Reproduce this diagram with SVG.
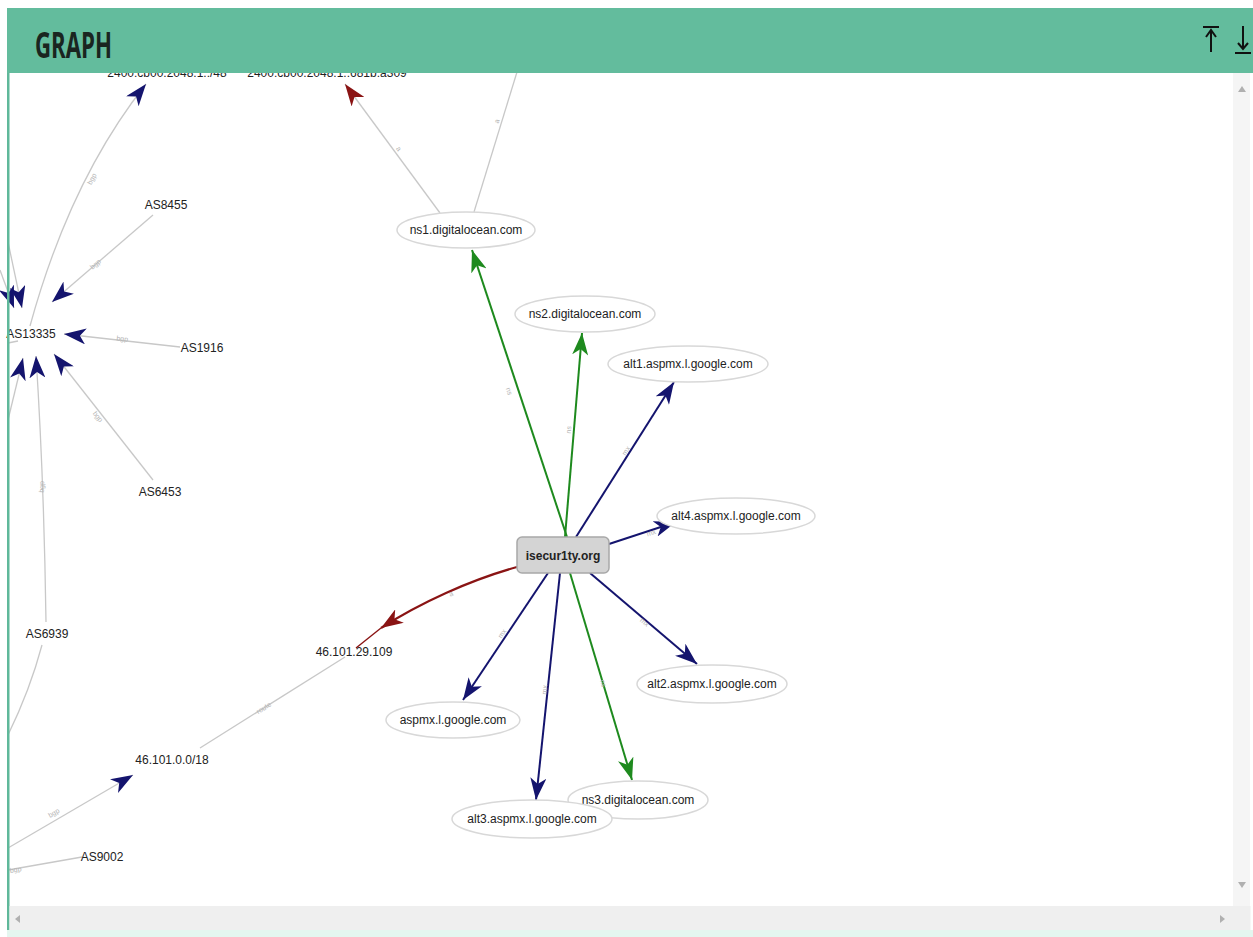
<svg xmlns="http://www.w3.org/2000/svg" width="1253" height="937" viewBox="0 0 1253 937">
<style>
.lbl{font-family:"Liberation Sans",Arial,sans-serif;font-size:12px;fill:#222;text-anchor:middle}
.el{fill:#fff;stroke:#d8d8d8;stroke-width:1.5}
.g{fill:none;stroke:#c8c8c8;stroke-width:1.3}
.nv{fill:none;stroke:#14146e;stroke-width:2}
.gr{fill:none;stroke:#1e8a1e;stroke-width:2}
.rd{fill:none;stroke:#8a1414;stroke-width:2.2}
.el-t{font-family:"Liberation Sans",Arial,sans-serif;font-size:7px;fill:#b4b4b4;text-anchor:middle}
</style>
<defs>
<marker id="aN" markerUnits="userSpaceOnUse" markerWidth="22" markerHeight="16" viewBox="0 0 22 16" refX="22" refY="8" orient="auto"><path d="M0,0 L22,8 L0,16 L6,8 z" fill="#14146e"/></marker>
<marker id="aG" markerUnits="userSpaceOnUse" markerWidth="22" markerHeight="16" viewBox="0 0 22 16" refX="22" refY="8" orient="auto"><path d="M0,0 L22,8 L0,16 L6,8 z" fill="#1e8a1e"/></marker>
<marker id="aR" markerUnits="userSpaceOnUse" markerWidth="22" markerHeight="16" viewBox="0 0 22 16" refX="22" refY="8" orient="auto"><path d="M0,0 L22,8 L0,16 L6,8 z" fill="#8a1414"/></marker>
</defs>
<rect width="1253" height="937" fill="#fff"/>
<g id="connectors">
<path class="gr" d="M567,537 L472,250" marker-end="url(#aG)"/>
<path class="gr" d="M565,537 L582,333" marker-end="url(#aG)"/>
<path class="nv" d="M576,537 L674,382" marker-end="url(#aN)"/>
<path class="nv" d="M609,544 L676,522" marker-end="url(#aN)"/>
<path class="nv" d="M590,573 L697,664" marker-end="url(#aN)"/>
<path class="nv" d="M548,573 L463,700" marker-end="url(#aN)"/>
<path class="nv" d="M560,573 L536,800" marker-end="url(#aN)"/>
<path class="gr" d="M570,573 L632,780" marker-end="url(#aG)"/>
<path class="rd" d="M517,567 C470,580 420,603 381,628" marker-end="url(#aR)"/>
<path d="M381,628 L356,648" fill="none" stroke="#8a1414" stroke-width="1.5"/>
<path class="g" d="M200,748 L345,657"/>
<path class="g" d="M8,848 L133,775" marker-end="url(#aN)"/>
<path class="g" d="M8,870 L82,857"/>
<path class="g" d="M153,215 L52,302" marker-end="url(#aN)"/>
<path class="g" d="M180,347 L64,334" marker-end="url(#aN)"/>
<path class="g" d="M153,480 L54,354" marker-end="url(#aN)"/>
<path class="g" d="M46,622 Q44,480 36,356" marker-end="url(#aN)"/>
<path class="g" d="M42,645 Q30,690 8,735"/>
<path class="g" d="M30,326 Q70,180 146,84" marker-end="url(#aN)"/>
<path class="g" d="M8,242 L22,308" marker-end="url(#aN)"/>
<path class="g" d="M0,270 L14,308" marker-end="url(#aN)"/>
<path class="g" d="M8,420 L23,358" marker-end="url(#aN)"/>
<path class="g" d="M8,343 L18,341"/>
<path class="g" d="M440,213 L345,84" marker-end="url(#aR)"/>
<path class="g" d="M474,212 L517,72"/>
<text class="el-t" transform="translate(507,392) rotate(72)">ns</text>
<text class="el-t" transform="translate(571,430) rotate(-85)">ns</text>
<text class="el-t" transform="translate(628,452) rotate(-57)">mx</text>
<text class="el-t" transform="translate(652,535) rotate(-18)">mx</text>
<text class="el-t" transform="translate(643,624) rotate(40)">mx</text>
<text class="el-t" transform="translate(504,635) rotate(-56)">mx</text>
<text class="el-t" transform="translate(547,690) rotate(-84)">mx</text>
<text class="el-t" transform="translate(601,684) rotate(73)">ns</text>
<text class="el-t" transform="translate(452,596) rotate(-25)">a</text>
<text class="el-t" transform="translate(265,710) rotate(-33)">route</text>
<text class="el-t" transform="translate(55,815) rotate(-30)">bgp</text>
<text class="el-t" transform="translate(16,872) rotate(-10)">bgp</text>
<text class="el-t" transform="translate(97,266) rotate(-41)">bgp</text>
<text class="el-t" transform="translate(122,341) rotate(6)">bgp</text>
<text class="el-t" transform="translate(96,418) rotate(52)">bgp</text>
<text class="el-t" transform="translate(44,487) rotate(-88)">bgp</text>
<text class="el-t" transform="translate(94,180) rotate(-62)">bgp</text>
<text class="el-t" transform="translate(397,150) rotate(54)">a</text>
<text class="el-t" transform="translate(499,122) rotate(-73)">a</text>
</g>
<g id="n-top1"><text class="lbl" x="167" y="77">2400:cb00:2048:1::/48</text></g>
<g id="n-top2"><text class="lbl" x="327" y="77">2400:cb00:2048:1::681b:a309</text></g>
<g id="n-ns1"><ellipse class="el" cx="466" cy="230" rx="69" ry="18"/><text class="lbl" x="466" y="234">ns1.digitalocean.com</text></g>
<g id="n-ns2"><ellipse class="el" cx="585" cy="314" rx="70" ry="18"/><text class="lbl" x="585" y="318">ns2.digitalocean.com</text></g>
<g id="n-alt1"><ellipse class="el" cx="688" cy="364" rx="80" ry="18"/><text class="lbl" x="688" y="368">alt1.aspmx.l.google.com</text></g>
<g id="n-alt4"><ellipse class="el" cx="736" cy="516" rx="79" ry="18"/><text class="lbl" x="736" y="520">alt4.aspmx.l.google.com</text></g>
<g id="n-alt2"><ellipse class="el" cx="712" cy="684" rx="75" ry="19"/><text class="lbl" x="712" y="688">alt2.aspmx.l.google.com</text></g>
<g id="n-aspmx"><ellipse class="el" cx="453" cy="720" rx="67" ry="18"/><text class="lbl" x="453" y="724">aspmx.l.google.com</text></g>
<g id="n-ns3"><ellipse class="el" cx="638" cy="800" rx="70" ry="19"/><text class="lbl" x="638" y="804">ns3.digitalocean.com</text></g>
<g id="n-alt3"><ellipse class="el" cx="532" cy="819" rx="80" ry="19"/><text class="lbl" x="532" y="823">alt3.aspmx.l.google.com</text></g>
<g id="n-isecur1ty"><rect x="517" y="537" width="92" height="36" rx="5" fill="#d4d4d4" stroke="#a8a8a8" stroke-width="1.5"/><text class="lbl" x="563" y="560" style="font-weight:bold">isecur1ty.org</text></g>
<g id="n-AS8455"><text class="lbl" x="166" y="209">AS8455</text></g>
<g id="n-AS13335"><text class="lbl" x="31" y="338">AS13335</text></g>
<g id="n-AS1916"><text class="lbl" x="202" y="352">AS1916</text></g>
<g id="n-AS6453"><text class="lbl" x="160" y="496">AS6453</text></g>
<g id="n-AS6939"><text class="lbl" x="47" y="638">AS6939</text></g>
<g id="n-ip"><text class="lbl" x="354" y="656">46.101.29.109</text></g>
<g id="n-prefix"><text class="lbl" x="172" y="764">46.101.0.0/18</text></g>
<g id="n-AS9002"><text class="lbl" x="102" y="861">AS9002</text></g>
<g id="chrome">
<rect x="7" y="8" width="1246" height="65" fill="#63bc9d"/>
<text x="35" y="58" font-family="'Open Sans','Liberation Sans',sans-serif" font-weight="bold" font-size="35" fill="#1a2520" textLength="77" lengthAdjust="spacingAndGlyphs">GRAPH</text>
<path d="M1203,27 H1219 M1211,30 V52" stroke="#111" stroke-width="2" fill="none"/>
<path d="M1206,37 L1211,30 L1216,37" stroke="#111" stroke-width="2" fill="none"/>
<path d="M1235,53 H1251 M1243,26 V48" stroke="#111" stroke-width="2" fill="none"/>
<path d="M1238,43 L1243,49 L1248,43" stroke="#111" stroke-width="2" fill="none"/>
<rect x="7" y="73" width="2.5" height="864" fill="#5fb89a"/>
<rect x="1233" y="73" width="17" height="833" fill="#f5f5f5"/>
<path d="M1238,92 L1242,86 L1246,92 z" fill="#b0b0b0"/>
<path d="M1238,882 L1242,888 L1246,882 z" fill="#b0b0b0"/>
<rect x="9.5" y="906" width="1241" height="24" fill="#efefef"/>
<path d="M20,915 L15,919 L20,923 z" fill="#b0b0b0"/>
<path d="M1220,915 L1225,919 L1220,923 z" fill="#b0b0b0"/>
<rect x="7" y="930" width="1246" height="7" fill="#e4f6ef"/>
</g>
</svg>
